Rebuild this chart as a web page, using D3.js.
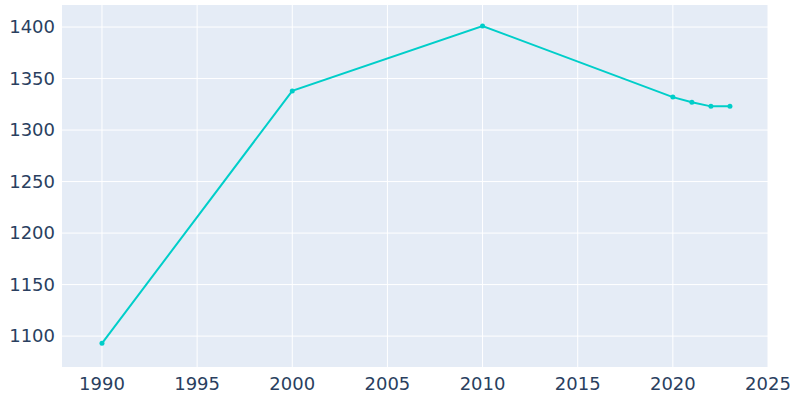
<!DOCTYPE html>
<html><head><meta charset="utf-8">
<script src="https://cdn.jsdelivr.net/npm/d3@7"></script>
<style>body{margin:0;background:#fff}</style></head>
<body><svg id="c" width="800" height="400"></svg>
<script>
const years = [1990, 2000, 2010, 2020, 2021, 2022, 2023];
const population = [1093, 1338, 1401, 1332, 1327, 1323, 1323];
const xTicks = [1990, 1995, 2000, 2005, 2010, 2015, 2020, 2025];
const yTicks = [1100, 1150, 1200, 1250, 1300, 1350, 1400];

const svg = d3.select("#c");
const L = 62, R = 768, T = 5, B = 367;
const x = d3.scaleLinear().domain([1987.9, 2025]).range([L, R]);
const y = d3.scaleLinear().domain([1070, 1421.4]).range([B, T]);

svg.append("rect").attr("x", L).attr("y", T).attr("width", R - L).attr("height", B - T).attr("fill", "#e5ecf6");
svg.append("g").selectAll("line").data(xTicks).join("line")
  .attr("x1", d => x(d)).attr("x2", d => x(d)).attr("y1", T).attr("y2", B)
  .attr("stroke", "#fff").attr("stroke-width", 1);
svg.append("g").selectAll("line").data(yTicks).join("line")
  .attr("x1", L).attr("x2", R).attr("y1", d => y(d)).attr("y2", d => y(d))
  .attr("stroke", "#fff").attr("stroke-width", 1);

const font = "'DejaVu Sans', sans-serif";
svg.append("g").selectAll("text").data(xTicks).join("text")
  .attr("x", d => x(d)).attr("y", 390).attr("text-anchor", "middle")
  .attr("font-family", font).attr("font-size", 18).attr("fill", "#2a3f5f").text(d => d);
svg.append("g").selectAll("text").data(yTicks).join("text")
  .attr("x", 55).attr("y", d => y(d) + 6).attr("text-anchor", "end")
  .attr("font-family", font).attr("font-size", 18).attr("fill", "#2a3f5f").text(d => d);

const pts = years.map((d, i) => [d, population[i]]);
svg.append("path").datum(pts)
  .attr("d", d3.line().x(d => x(d[0])).y(d => y(d[1])))
  .attr("fill", "none").attr("stroke", "#00cec9").attr("stroke-width", 2);
svg.append("g").selectAll("circle").data(pts).join("circle")
  .attr("cx", d => x(d[0])).attr("cy", d => y(d[1])).attr("r", 2.5).attr("fill", "#00cec9");
</script></body></html>
